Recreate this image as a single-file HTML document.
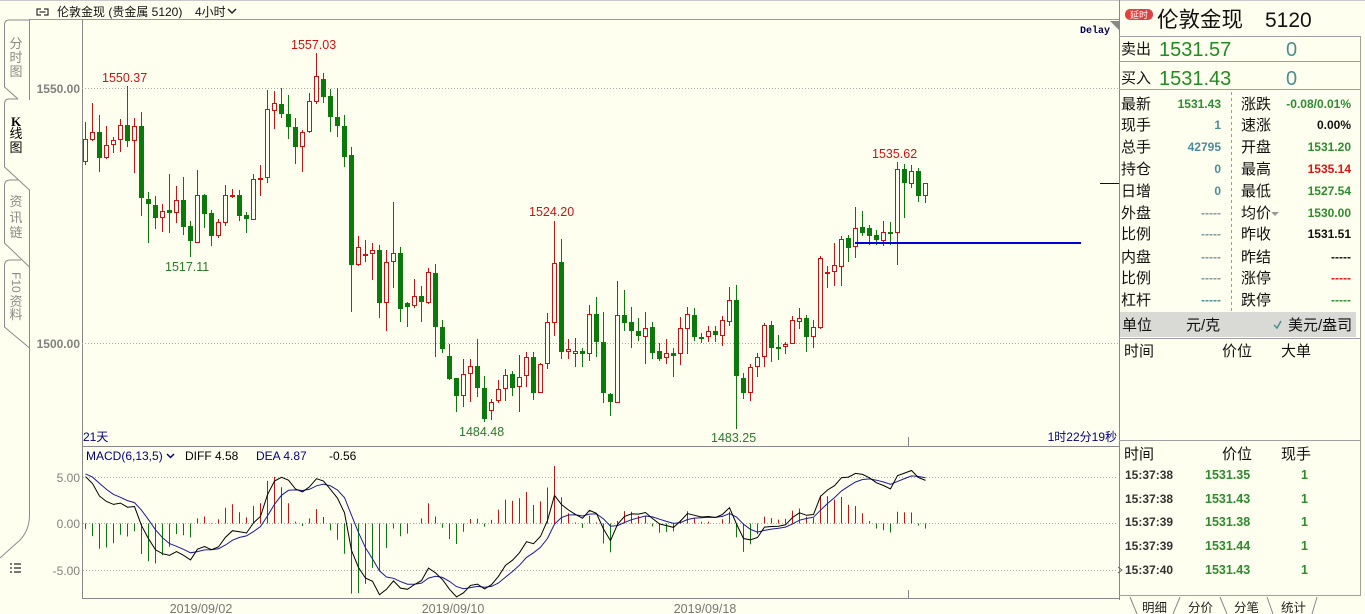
<!DOCTYPE html>
<html><head><meta charset="utf-8">
<style>
html,body{margin:0;padding:0;}
body{width:1365px;height:614px;overflow:hidden;background:#fffff0;}
svg{position:absolute;left:0;top:0;font-family:"Liberation Sans","Noto Sans CJK SC",sans-serif;}
</style></head><body>
<svg id="s" width="1365" height="614" xmlns="http://www.w3.org/2000/svg">
<rect width="1365" height="614" fill="#fffff0"/>
<line x1="0" y1="0.5" x2="1365" y2="0.5" stroke="#c8c8c8"/>
<!-- header -->
<path d="M41,9 H37 V15 H41 M44,9 H48 V15 H44 M39.5,12 H45.5" stroke="#333" fill="none" stroke-width="1.2"/>
<text x="57" y="16" font-size="12" fill="#111">伦敦金现 (贵金属 5120)</text>
<text x="195" y="16" font-size="12" fill="#111">4小时</text>
<path d="M228,9 L232,13 L236,9" stroke="#222" fill="none" stroke-width="1.5"/>
<line x1="29" y1="19.5" x2="1119" y2="19.5" stroke="#999"/>
<!-- sidebar tabs -->
<g stroke="#8a8a8a" fill="none" stroke-width="1">
<path d="M29.5,100 V20 H9 Q4.5,20 4.5,25 V87 L18,99"/>
<path d="M18,99 H9 Q4.5,99 4.5,104 V167 L29.5,190"/>
<path d="M18,180 H10 Q4.5,180 4.5,186 V243 L29.5,267"/>
<path d="M21,260 H10 Q4.5,260 4.5,266 V327 L29.5,348"/>
<path d="M29.5,190 V515 Q29.5,530 20,540 L0,558"/>
</g>
<g font-size="13" fill="#8a8a8a" text-anchor="middle">
<text x="16" y="48">分</text><text x="16" y="62">时</text><text x="16" y="76">图</text>
<text x="16" y="206">资</text><text x="16" y="222">讯</text><text x="16" y="237">链</text>
<text x="16" y="306">资</text><text x="16" y="319">料</text>
</g>
<text transform="translate(12,272) rotate(90)" font-size="12" fill="#8a8a8a">F10</text>
<text x="16" y="126" font-size="13" font-weight="bold" fill="#000" text-anchor="middle" style="font-family:'Liberation Serif',serif">K</text>
<text x="16" y="138" font-size="13" fill="#000" text-anchor="middle">线</text>
<text x="16" y="152" font-size="13" fill="#000" text-anchor="middle">图</text>
<g fill="#777">
<rect x="10" y="563" width="2" height="2"/><rect x="14" y="563" width="7" height="2"/>
<rect x="10" y="567" width="2" height="2"/><rect x="14" y="567" width="7" height="2"/>
<rect x="10" y="571" width="2" height="2"/><rect x="14" y="571" width="7" height="2"/>
</g>
<!-- chart frame -->
<line x1="82.5" y1="20" x2="82.5" y2="599" stroke="#888"/>
<line x1="1119.5" y1="0" x2="1119.5" y2="600" stroke="#888"/>
<line x1="82" y1="446.5" x2="1119" y2="446.5" stroke="#888"/>
<line x1="82" y1="598.5" x2="1119" y2="598.5" stroke="#888"/>
<line x1="908.5" y1="437" x2="908.5" y2="446" stroke="#888"/>
<line x1="908.5" y1="590" x2="908.5" y2="598" stroke="#888"/>
<polygon points="1110,21 1119,21 1119,30" fill="#888"/>
<g stroke="#aaa" stroke-dasharray="1,2">
<line x1="82" y1="88.5" x2="1118" y2="88.5"/>
<line x1="82" y1="343.5" x2="1118" y2="343.5"/>
<line x1="83" y1="477.5" x2="1118" y2="477.5"/>
<line x1="83" y1="523.5" x2="1118" y2="523.5"/>
<line x1="83" y1="570.5" x2="1118" y2="570.5"/>
</g>
<g font-size="12" font-weight="bold" fill="#808080" text-anchor="end">
<text x="80" y="93">1550.00</text>
<text x="80" y="348">1500.00</text>
</g>
<g font-size="12" fill="#808080" text-anchor="end">
<text x="80" y="482">5.00</text>
<text x="80" y="528">0.00</text>
<text x="80" y="575">-5.00</text>
</g>
<text x="1080" y="33" font-size="10" font-weight="bold" fill="#000050" style="font-family:'Liberation Mono',monospace">Delay</text>
<g id="cd"></g>
<line x1="855" y1="243" x2="1081" y2="243" stroke="#0000dd" stroke-width="2"/>
<line x1="1100" y1="183.5" x2="1119" y2="183.5" stroke="#000080"/>
<g font-size="12.5" fill="#cc1111">
<text x="102" y="82">1550.37</text>
<text x="291" y="49">1557.03</text>
<text x="529" y="216">1524.20</text>
<text x="872" y="158">1535.62</text>
</g>
<g font-size="12.5" fill="#2a7a2a">
<text x="165" y="271">1517.11</text>
<text x="459" y="436">1484.48</text>
<text x="711" y="442">1483.25</text>
</g>
<text x="83" y="441" font-size="12" fill="#000080">21天</text>
<text x="1117" y="441" font-size="12" fill="#000080" text-anchor="end">1时22分19秒</text>
<!-- MACD -->
<g font-size="12">
<text x="86" y="460" fill="#000080">MACD(6,13,5)</text>
<text x="185" y="460" fill="#000">DIFF 4.58</text>
<text x="256" y="460" fill="#000080">DEA 4.87</text>
<text x="329" y="460" fill="#000">-0.56</text>
</g>
<path d="M167,454 L170.5,457.5 L174,454" stroke="#000080" fill="none" stroke-width="1.5"/>
<g id="mc"></g>
<g font-size="12.5" fill="#777" text-anchor="middle">
<text x="201" y="613">2019/09/02</text>
<text x="453" y="613">2019/09/10</text>
<text x="705" y="613">2019/09/18</text>
</g>
<!-- right panel -->
<rect x="1125" y="9" width="28" height="11" rx="5" fill="#e04040"/>
<text x="1139" y="18" font-size="9" fill="#fff" text-anchor="middle">延时</text>
<text x="1157" y="27" font-size="21.5" fill="#111">伦敦金现</text>
<text x="1265" y="27" font-size="21" fill="#111">5120</text>
<g stroke="#a0a0a0">
<line x1="1119" y1="36.5" x2="1361" y2="36.5"/>
<line x1="1119" y1="61.5" x2="1361" y2="61.5"/>
<line x1="1119" y1="89.5" x2="1361" y2="89.5"/>
<line x1="1360.5" y1="36" x2="1360.5" y2="596"/>
<line x1="1119" y1="338.5" x2="1361" y2="338.5"/>
<line x1="1119" y1="440.5" x2="1361" y2="440.5"/>
<line x1="1119" y1="595.5" x2="1361" y2="595.5"/>
</g>
<line x1="1231.5" y1="92" x2="1231.5" y2="311" stroke="#999" stroke-dasharray="3,3"/>
<text x="1121" y="54" font-size="15" fill="#111">卖出</text>
<text x="1159" y="56" font-size="20" fill="#228b22">1531.57</text>
<text x="1286" y="56" font-size="20" fill="#4d8f8f">0</text>
<text x="1121" y="83" font-size="15" fill="#111">买入</text>
<text x="1159" y="85" font-size="20" fill="#228b22">1531.43</text>
<text x="1286" y="85" font-size="20" fill="#4d8f8f">0</text>
<g font-size="15" fill="#111">
<text x="1121" y="109">最新</text><text x="1241" y="109">涨跌</text>
<text x="1121" y="130">现手</text><text x="1241" y="130">速涨</text>
<text x="1121" y="152">总手</text><text x="1241" y="152">开盘</text>
<text x="1121" y="174">持仓</text><text x="1241" y="174">最高</text>
<text x="1121" y="196">日增</text><text x="1241" y="196">最低</text>
<text x="1121" y="218">外盘</text><text x="1241" y="218">均价</text>
<text x="1121" y="239">比例</text><text x="1241" y="239">昨收</text>
<text x="1121" y="262">内盘</text><text x="1241" y="262">昨结</text>
<text x="1121" y="283">比例</text><text x="1241" y="283">涨停</text>
<text x="1121" y="305">杠杆</text><text x="1241" y="305">跌停</text>
</g>
<polygon points="1271,212 1279,212 1275,216" fill="#999"/>
<g font-size="12" font-weight="bold" text-anchor="end">
<text x="1221" y="108" fill="#2e8b2e">1531.43</text>
<text x="1221" y="129" fill="#4d8f8f">1</text>
<text x="1221" y="151" fill="#4f8a9a">42795</text>
<text x="1221" y="173" fill="#4d8f8f">0</text>
<text x="1221" y="195" fill="#4d8f8f">0</text>
<text x="1221" y="217" fill="#7a9a9a">-----</text>
<text x="1221" y="238" fill="#7a9a9a">-----</text>
<text x="1221" y="261" fill="#7a9a9a">-----</text>
<text x="1221" y="282" fill="#7a9a9a">-----</text>
<text x="1221" y="304" fill="#4d8f8f">-----</text>
<text x="1351" y="108" fill="#2e8b2e">-0.08/0.01%</text>
<text x="1351" y="129" fill="#111">0.00%</text>
<text x="1351" y="151" fill="#2e8b2e">1531.20</text>
<text x="1351" y="173" fill="#dd1111">1535.14</text>
<text x="1351" y="195" fill="#2e8b2e">1527.54</text>
<text x="1351" y="217" fill="#2e8b2e">1530.00</text>
<text x="1351" y="238" fill="#111">1531.51</text>
<text x="1351" y="261" fill="#111">-----</text>
<text x="1351" y="282" fill="#dd1111">-----</text>
<text x="1351" y="304" fill="#2e8b2e">-----</text>
</g>
<rect x="1120" y="312" width="236" height="25" fill="#d9d9d6"/>
<g font-size="15" fill="#111">
<text x="1122" y="330">单位</text>
<text x="1186" y="330">元/克</text>
<text x="1288" y="330">美元/盎司</text>
<text x="1124" y="356">时间</text><text x="1222" y="356">价位</text><text x="1281" y="356">大单</text>
<text x="1124" y="459">时间</text><text x="1222" y="459">价位</text><text x="1281" y="459">现手</text>
</g>
<path d="M1274,325 L1277,328 L1281,321" stroke="#4d8f8f" fill="none" stroke-width="1.5"/>
<g font-size="12" font-weight="bold" fill="#333">
<text x="1125" y="479">15:37:38</text>
<text x="1125" y="503">15:37:38</text>
<text x="1125" y="526">15:37:39</text>
<text x="1125" y="550">15:37:39</text>
<text x="1125" y="574">15:37:40</text>
</g>
<g font-size="12.5" font-weight="bold" fill="#2e8b2e">
<text x="1205" y="479">1531.35</text>
<text x="1205" y="503">1531.43</text>
<text x="1205" y="526">1531.38</text>
<text x="1205" y="550">1531.44</text>
<text x="1205" y="574">1531.43</text>
</g>
<g font-size="12.5" font-weight="bold" fill="#2e8b2e" text-anchor="end">
<text x="1308" y="479">1</text><text x="1308" y="503">1</text><text x="1308" y="526">1</text><text x="1308" y="550">1</text><text x="1308" y="574">1</text>
</g>
<path d="M1118,567 L1122,570 L1118,573" stroke="#666" fill="none"/>
<g stroke="#888" fill="none">
<line x1="1130" y1="597" x2="1137" y2="614"/>
<line x1="1180" y1="597" x2="1173" y2="614"/>
<line x1="1220" y1="597" x2="1227" y2="614"/>
<line x1="1267" y1="597" x2="1273" y2="614"/>
<line x1="1317" y1="597" x2="1312" y2="614"/>
</g>
<g font-size="12.5" fill="#222">
<text x="1142" y="612">明细</text>
<text x="1188" y="612">分价</text>
<text x="1234" y="612">分笔</text>
<text x="1281" y="612">统计</text>
</g>
</svg>
<script>
var D=[
[122,139,162,165,'r'],[103,132,140,141,'r'],[115,132,158,172,'g'],[126,145,158,159,'r'],[137,140,145,153,'r'],
[119,125,140,152,'r'],[86,125,141,147,'g'],[118,126,141,173,'r'],[112,126,198,216,'g'],[192,199,204,243,'g'],
[196,205,218,229,'g'],[204,211,218,232,'r'],[174,210,213,233,'g'],[186,200,213,223,'r'],[177,200,227,235,'g'],
[221,226,241,257,'g'],[170,195,243,243,'r'],[194,195,214,228,'g'],[210,213,236,246,'g'],[219,222,236,238,'r'],
[185,195,223,226,'r'],[189,195,197,198,'r'],[190,195,216,221,'g'],[212,215,219,233,'g'],[174,179,220,220,'r'],
[165,178,179,196,'r'],[90,109,178,183,'r'],[91,103,111,129,'r'],[88,104,114,118,'g'],[95,114,127,139,'g'],
[118,127,147,164,'g'],[130,132,147,172,'r'],[93,101,132,133,'r'],[53,76,102,104,'r'],[73,79,97,103,'g'],
[89,96,117,132,'g'],[88,117,126,137,'g'],[115,126,157,167,'g'],[147,155,265,312,'g'],[236,247,265,266,'r'],
[240,254,256,262,'r'],[243,250,254,280,'r'],[245,250,303,318,'g'],[250,262,303,331,'r'],[202,253,262,288,'r'],
[247,253,309,322,'g'],[302,303,307,327,'g'],[279,296,306,308,'r'],[286,296,302,322,'g'],[268,272,303,304,'r'],
[264,273,327,357,'g'],[320,327,349,353,'g'],[344,356,379,380,'g'],[378,378,396,412,'g'],[359,374,396,407,'r'],
[359,366,374,402,'r'],[339,366,388,397,'g'],[376,388,419,422,'g'],[399,402,411,420,'r'],[380,389,401,403,'r'],
[369,375,389,401,'r'],[371,374,388,396,'g'],[355,377,387,412,'r'],[352,357,376,387,'r'],[352,357,393,400,'g'],
[363,364,393,393,'r'],[313,322,364,369,'r'],[221,263,323,336,'r'],[239,262,352,359,'g'],[339,349,352,359,'r'],
[338,351,354,367,'r'],[348,351,354,367,'g'],[305,314,354,361,'r'],[297,314,342,357,'g'],[312,342,393,403,'g'],
[393,394,402,416,'g'],[281,315,403,403,'r'],[290,315,323,331,'g'],[307,322,331,348,'g'],[318,331,336,341,'g'],
[312,328,337,364,'r'],[322,327,353,359,'g'],[343,351,359,361,'g'],[339,353,358,364,'r'],[348,353,356,377,'g'],
[317,328,354,365,'r'],[307,314,329,354,'r'],[308,315,337,341,'g'],[333,337,338,343,'g'],[326,331,337,342,'r'],
[326,331,335,342,'g'],[316,320,336,346,'r'],[287,300,322,326,'r'],[285,300,376,429,'g'],[373,378,393,399,'g'],
[364,367,393,401,'r'],[353,357,367,377,'r'],[323,325,357,367,'r'],[321,325,348,362,'g'],[335,347,349,360,'g'],
[342,344,347,354,'r'],[316,320,344,344,'r'],[308,318,322,329,'r'],[315,318,337,352,'g'],[320,327,337,348,'r'],
[256,258,328,329,'r'],[266,272,273,288,'r'],[243,265,272,286,'r'],[236,239,267,286,'r'],[235,238,248,262,'g'],
[207,228,247,258,'r'],[211,227,233,236,'g'],[225,228,236,245,'g'],[230,235,240,245,'g'],[221,232,241,246,'r'],
[222,232,233,245,'g'],[162,169,233,265,'r'],[164,169,183,218,'g'],[165,171,184,188,'r'],[168,171,196,202,'g'],
[183,183,196,203,'r']];
var h='';
for(var i=0;i<D.length;i++){
 var d=D[i],cx=85+7*i,x=cx+0.5,hi=d[0],t=d[1],b=d[2],lo=d[3];
 if(d[4]==='r'){
  var col='#d01010';
  if(b-t<=2){
   h+='<line x1="'+x+'" y1="'+hi+'" x2="'+x+'" y2="'+lo+'" stroke="'+col+'"/><rect x="'+(cx-2)+'" y="'+t+'" width="5" height="2" fill="'+col+'"/>';
  } else {
   h+='<line x1="'+x+'" y1="'+hi+'" x2="'+x+'" y2="'+t+'" stroke="'+col+'"/><line x1="'+x+'" y1="'+b+'" x2="'+x+'" y2="'+lo+'" stroke="'+col+'"/><rect x="'+(cx-1.5)+'" y="'+(t+0.5)+'" width="4" height="'+(b-t-1)+'" fill="#fffff0" stroke="'+col+'"/>';
  }
 } else {
  var col='#0a7a0a';
  h+='<line x1="'+x+'" y1="'+hi+'" x2="'+x+'" y2="'+lo+'" stroke="'+col+'"/><rect x="'+(cx-2)+'" y="'+t+'" width="5" height="'+Math.max(2,b-t)+'" fill="'+col+'"/>';
 }
}
document.getElementById('cd').innerHTML=h;
function P(y){return 1550-(y-88)/5.1;}
var C=D.map(function(d){return P(d[4]==='r'?d[1]:d[2]);});
var f=C[0]+1.5,s=C[0]-3.5,dea=5.3,af=2/7,as=2/14,ad=2/6;
var DI=[],DE=[];
for(var i=0;i<C.length;i++){
 if(i>0){f+=af*(C[i]-f);s+=as*(C[i]-s);}
 var df=(i===0)?5.0:f-s;
 if(i>0)dea+=ad*(df-dea);
 DI.push(df);DE.push(dea);
}
function Y(v){var y=523.3-v*9.33;return Math.max(448,Math.min(597,y));}
var m='',p1='',p2='';
for(var i=0;i<C.length;i++){
 var x=85+7*i+0.5,hv=2*(DI[i]-DE[i]);
 var yy=Y(hv);
 m+='<line x1="'+x+'" y1="523.5" x2="'+x+'" y2="'+yy.toFixed(1)+'" stroke="'+(hv>=0?'#cc1111':'#0a7a0a')+'"/>';
 p1+=x+','+Y(DI[i]).toFixed(1)+' ';
 p2+=x+','+Y(DE[i]).toFixed(1)+' ';
}
m+='<polyline points="'+p2+'" fill="none" stroke="#1a1a9a" stroke-width="1"/>';
m+='<polyline points="'+p1+'" fill="none" stroke="#000" stroke-width="1"/>';
document.getElementById('mc').innerHTML=m;
</script>
</body></html>
